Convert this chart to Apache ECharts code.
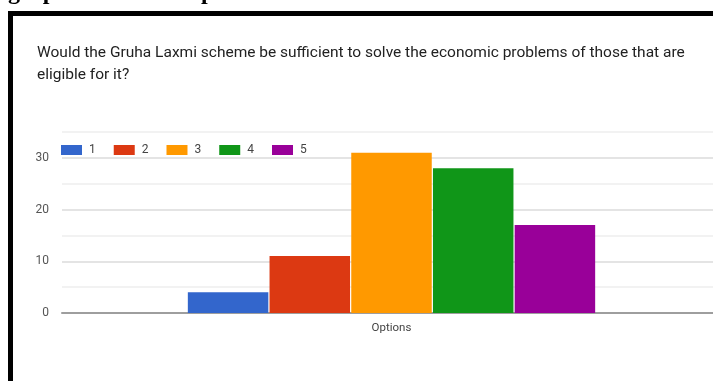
<!DOCTYPE html>
<html>
<head>
<meta charset="utf-8">
<script src="https://cdn.jsdelivr.net/npm/echarts@6/dist/echarts.min.js"></script>
<style>
html,body{margin:0;padding:0;background:#fff;overflow:hidden;}
#c{width:730px;height:381px;}
</style>
</head>
<body>
<div id="c"></div>
<script>
const heading = "graph of all the responses";
const titleLines = [
  "Would the Gruha Laxmi scheme be sufficient to solve the economic problems of those that are",
  "eligible for it?"
];
const categories = ["Options"];
const seriesNames = ["1", "2", "3", "4", "5"];
const seriesValues = [[4], [11], [31], [28], [17]];
const colors = ["#3366cc", "#dc3912", "#ff9900", "#109618", "#990099"];
const yTickLabels = ["0", "10", "20", "30"];

const chart = echarts.init(document.getElementById('c'), null, {renderer: 'canvas'});
chart.setOption({
  animation: false,
  color: colors,
  graphic: [
    {type: 'text', left: 8, top: -19, z: 10,
      style: {text: heading, font: 'bold 24px "Liberation Serif"', fill: '#000'}},
    {type: 'rect', shape: {x: 10.5, y: 13.5, width: 1000, height: 1000}, z: -10,
      style: {fill: '#fff', stroke: '#000', lineWidth: 5}},
    {type: 'text', left: 37, top: 42, z: 10,
      style: {text: titleLines.join('\n'), font: '15.5px Roboto', lineHeight: 22, fill: '#222'}}
  ],
  legend: {
    left: 56, top: 139,
    itemWidth: 21, itemHeight: 10, itemGap: 18,
    icon: 'rect',
    textStyle: {color: '#444', fontSize: 12, fontFamily: 'Roboto', padding: [0, 0, 0, 2]},
    data: seriesNames
  },
  grid: {left: 62, right: 9, top: 132, height: 181, containLabel: false},
  xAxis: {
    type: 'category', data: categories,
    axisLine: {lineStyle: {color: '#9e9e9e', width: 2}},
    axisTick: {show: false},
    axisLabel: {color: '#444', fontSize: 11.5, fontFamily: 'Roboto', margin: 9}
  },
  yAxis: {
    type: 'value', min: 0, max: 35, interval: 5,
    axisLine: {show: false}, axisTick: {show: false},
    axisLabel: {color: '#555', fontSize: 12, fontFamily: 'Roboto', margin: 13,
      formatter: v => (yTickLabels.indexOf(String(v)) >= 0 ? String(v) : '')},
    splitLine: {lineStyle: {color: ['#e4e4e4', '#f2f2f2'], width: 2}}
  },
  series: seriesNames.map((n, i) => ({
    name: n, type: 'bar', data: seriesValues[i],
    barWidth: 80.5, barGap: '1.5%',
    itemStyle: {borderColor: 'rgba(255,255,255,0.5)', borderWidth: 0}
  }))
});
</script>
</body>
</html>
